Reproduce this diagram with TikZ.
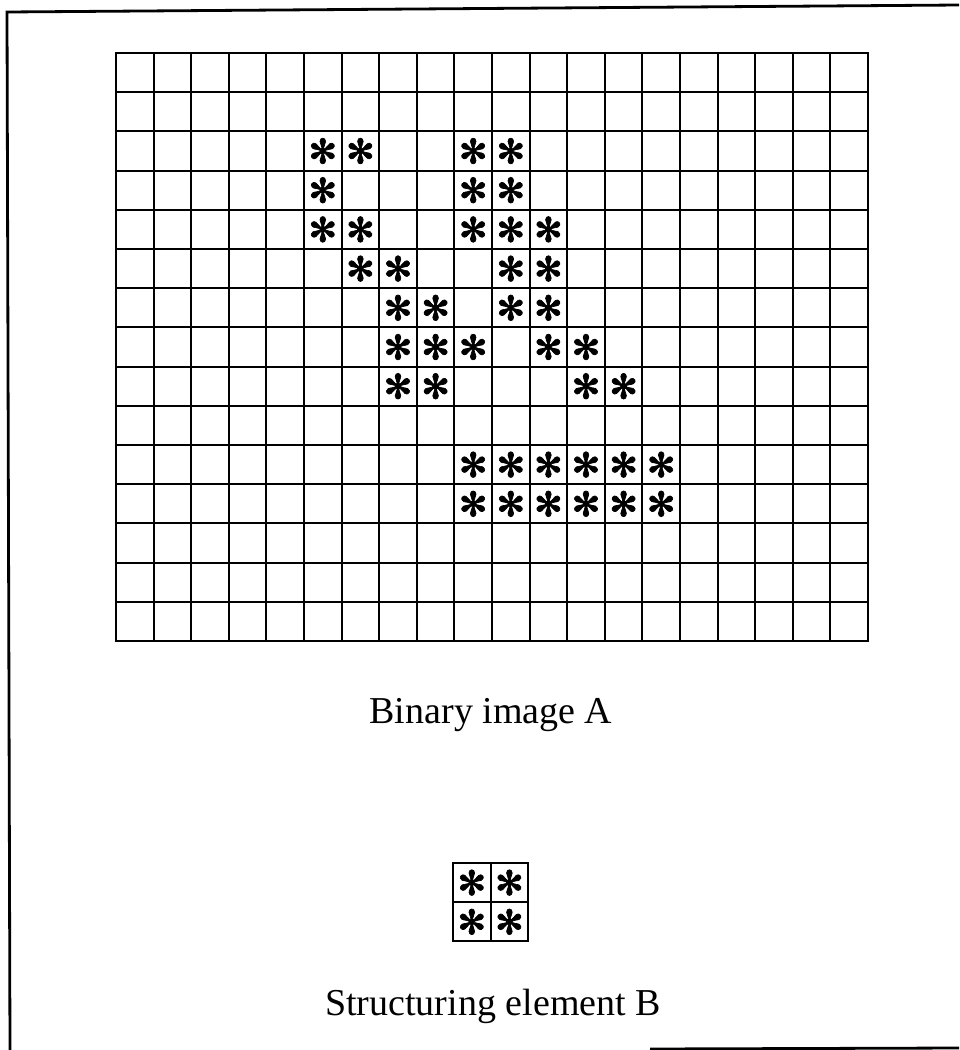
\documentclass[tikz,border=0pt]{standalone}
\usepackage{fontspec}
\setmainfont{Liberation Serif}
\newfontfamily\symfont[FakeBold=2]{DejaVu Sans}
\begin{document}
\begin{tikzpicture}[x=1pt,y=-1pt,
  gridline/.style={line width=2pt, line cap=rect},
  framelines/.style={line width=2.8pt},
  starnode/.style={inner sep=0pt, font=\symfont\fontsize{34}{34}\selectfont},
  caption/.style={font=\fontsize{38}{38}\selectfont, inner sep=0pt, anchor=base}]
\useasboundingbox (0,0) rectangle (959,1050);
% outer frame (scanned, partly cut off)
\draw[framelines] (959,5) -- (7,12) -- (10,1050);
\draw[framelines] (650,1049) -- (959,1048);
% binary image A : 20 x 15 grid
\foreach \i in {0,...,20} \draw[gridline] ({116+\i*37.6},53) -- ({116+\i*37.6},641);
\foreach \j in {0,...,15} \draw[gridline] (116,{53+\j*39.2}) -- (868,{53+\j*39.2});
\foreach \r/\c in {2/5,2/6,2/9,2/10,
                   3/5,3/9,3/10,
                   4/5,4/6,4/9,4/10,4/11,
                   5/6,5/7,5/10,5/11,
                   6/7,6/8,6/10,6/11,
                   7/7,7/8,7/9,7/11,7/12,
                   8/7,8/8,8/12,8/13,
                   10/9,10/10,10/11,10/12,10/13,10/14,
                   11/9,11/10,11/11,11/12,11/13,11/14}
  \node[starnode] (s-\r-\c) at ({116+(\c+0.5)*37.6},{53+(\r+0.5)*39.2}) {✻};
\node[caption] (capA) at (491,723) {Binary image A};
% structuring element B : 2 x 2
\foreach \i in {0,1,2} \draw[gridline] ({453+\i*37.6},863) -- ({453+\i*37.6},941.4);
\foreach \j in {0,1,2} \draw[gridline] (453,{863+\j*39.2}) -- (528.2,{863+\j*39.2});
\foreach \r/\c in {0/0,0/1,1/0,1/1}
  \node[starnode] (b-\r-\c) at ({453+(\c+0.5)*37.6},{863+(\r+0.5)*39.2}) {✻};
\node[caption] (capB) at (493,1015) {Structuring element B};
\end{tikzpicture}
\end{document}
